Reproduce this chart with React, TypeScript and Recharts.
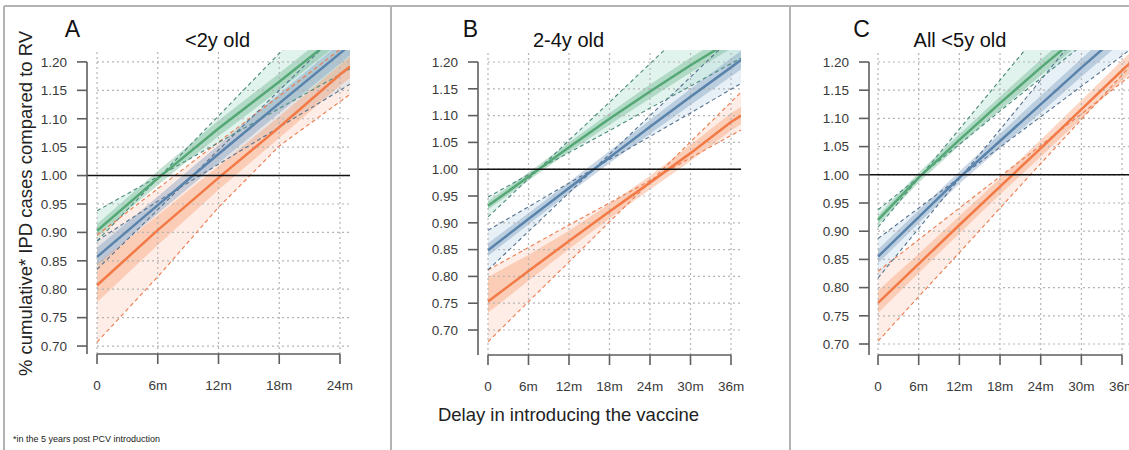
import React from "react";
import {
  ComposedChart,
  Area,
  Line,
  XAxis,
  YAxis,
  ReferenceLine,
} from "recharts";

// ---- data (cumulative IPD ratio vs. delay in months) ----

const yTicks = [0.7, 0.75, 0.8, 0.85, 0.9, 0.95, 1.0, 1.05, 1.1, 1.15, 1.2];
const xTicksA = [0, 6, 12, 18, 24];
const xTicksBC = [0, 6, 12, 18, 24, 30, 36];

// panel A: <2y old
const monthsA = [0, 6, 12, 18, 24, 25];
const greenMidA = [0.903, 0.995, 1.083, 1.165, 1.25, 1.264];
const greenLoA = [0.893, 0.983, 1.069, 1.15, 1.234, 1.248];
const greenHiA = [0.915, 1.008, 1.097, 1.18, 1.266, 1.28];
const greenDash1A = [0.938, 0.998, 1.058, 1.118, 1.178, 1.188];
const greenDash2A = [0.885, 0.995, 1.105, 1.215, 1.325, 1.343];
const blueMidA = [0.857, 0.948, 1.038, 1.127, 1.215, 1.23];
const blueLoA = [0.842, 0.933, 1.022, 1.11, 1.197, 1.212];
const blueHiA = [0.873, 0.963, 1.054, 1.144, 1.233, 1.248];
const blueDash1A = [0.885, 0.955, 1.02, 1.085, 1.15, 1.161];
const blueDash2A = [0.835, 0.94, 1.045, 1.15, 1.255, 1.272];
const orangeMidA = [0.807, 0.904, 0.996, 1.085, 1.178, 1.192];
const orangeLoA = [0.777, 0.878, 0.975, 1.066, 1.158, 1.172];
const orangeHiA = [0.845, 0.93, 1.017, 1.104, 1.195, 1.21];
const orangeDash1A = [0.895, 0.977, 1.059, 1.14, 1.222, 1.236];
const orangeDash2A = [0.707, 0.822, 0.944, 1.052, 1.13, 1.143];

// panel B: 2-4y old
const monthsB = [0, 6, 12, 18, 24, 30, 36, 37.5];
const greenMidB = [0.932, 0.986, 1.041, 1.094, 1.145, 1.194, 1.24, 1.251];
const greenLoB = [0.925, 0.979, 1.032, 1.083, 1.132, 1.18, 1.225, 1.236];
const greenHiB = [0.94, 0.994, 1.05, 1.105, 1.158, 1.208, 1.255, 1.266];
const greenDash1B = [0.948, 0.99, 1.031, 1.072, 1.114, 1.155, 1.197, 1.207];
const greenDash2B = [0.911, 0.982, 1.054, 1.125, 1.197, 1.268, 1.34, 1.357];
const blueMidB = [0.849, 0.907, 0.965, 1.022, 1.079, 1.135, 1.19, 1.204];
const blueLoB = [0.838, 0.897, 0.955, 1.011, 1.066, 1.12, 1.173, 1.186];
const blueHiB = [0.862, 0.918, 0.976, 1.034, 1.092, 1.15, 1.207, 1.221];
const blueDash1B = [0.886, 0.93, 0.974, 1.018, 1.061, 1.105, 1.149, 1.16];
const blueDash2B = [0.812, 0.884, 0.956, 1.028, 1.1, 1.172, 1.244, 1.262];
const orangeMidB = [0.753, 0.81, 0.866, 0.921, 0.975, 1.03, 1.088, 1.1];
const orangeLoB = [0.732, 0.792, 0.851, 0.908, 0.962, 1.015, 1.072, 1.084];
const orangeHiB = [0.799, 0.84, 0.885, 0.935, 0.988, 1.045, 1.105, 1.116];
const orangeDash1B = [0.812, 0.854, 0.896, 0.937, 0.979, 1.021, 1.063, 1.073];
const orangeDash2B = [0.678, 0.753, 0.827, 0.902, 0.976, 1.051, 1.125, 1.144];

// panel C: all <5y old
const monthsC = [0, 6, 12, 18, 24, 30, 36, 37.5];
const greenMidC = [0.92, 0.995, 1.062, 1.127, 1.19, 1.25, 1.31, 1.325];
const greenLoC = [0.912, 0.986, 1.052, 1.115, 1.176, 1.235, 1.294, 1.309];
const greenHiC = [0.928, 1.004, 1.072, 1.139, 1.204, 1.265, 1.326, 1.341];
const greenDash1C = [0.938, 0.996, 1.054, 1.113, 1.171, 1.229, 1.287, 1.302];
const greenDash2C = [0.907, 0.994, 1.081, 1.168, 1.255, 1.342, 1.429, 1.451];
const blueMidC = [0.855, 0.925, 0.995, 1.06, 1.125, 1.19, 1.253, 1.268];
const blueLoC = [0.843, 0.914, 0.984, 1.047, 1.11, 1.174, 1.236, 1.251];
const blueHiC = [0.868, 0.937, 1.006, 1.073, 1.14, 1.206, 1.27, 1.285];
const blueDash1C = [0.887, 0.941, 0.995, 1.049, 1.103, 1.157, 1.211, 1.225];
const blueDash2C = [0.817, 0.905, 0.993, 1.08, 1.168, 1.256, 1.343, 1.365];
const orangeMidC = [0.773, 0.842, 0.911, 0.979, 1.047, 1.116, 1.185, 1.202];
const orangeLoC = [0.755, 0.826, 0.896, 0.965, 1.032, 1.1, 1.167, 1.184];
const orangeHiC = [0.795, 0.86, 0.927, 0.994, 1.062, 1.132, 1.203, 1.22];
const orangeDash1C = [0.829, 0.885, 0.941, 0.997, 1.052, 1.108, 1.164, 1.178];
const orangeDash2C = [0.705, 0.784, 0.862, 0.941, 1.02, 1.098, 1.177, 1.197];

// ---- styling ----

const FONT = "'Liberation Sans', Arial, Helvetica, sans-serif";

const COLORS = {
  green: { line: "#55a876", dash: "#4c8a7c", inner: "#6ab38b", outer: "#a3d9c7" },
  blue: { line: "#5a83ab", dash: "#56728f", inner: "#7a9cc0", outer: "#b3d0e3" },
  orange: { line: "#f27a46", dash: "#ec7a4c", inner: "#f79a6e", outer: "#fcc8b0" },
};

type GroupKey = "green" | "blue" | "orange";
type Group = { mid: number[]; lo: number[]; hi: number[]; d1: number[]; d2: number[] };

function buildRows(months: number[], groups: Record<GroupKey, Group>) {
  return months.map((m, i) => {
    const row: Record<string, any> = { m };
    (Object.keys(groups) as GroupKey[]).forEach((k) => {
      const g = groups[k];
      row[k + "Mid"] = g.mid[i];
      row[k + "In"] = [g.lo[i], g.hi[i]];
      row[k + "Out"] = [g.d1[i], g.d2[i]];
      row[k + "D1"] = g.d1[i];
      row[k + "D2"] = g.d2[i];
    });
    return row;
  });
}

const dataA = buildRows(monthsA, {
  green: { mid: greenMidA, lo: greenLoA, hi: greenHiA, d1: greenDash1A, d2: greenDash2A },
  blue: { mid: blueMidA, lo: blueLoA, hi: blueHiA, d1: blueDash1A, d2: blueDash2A },
  orange: { mid: orangeMidA, lo: orangeLoA, hi: orangeHiA, d1: orangeDash1A, d2: orangeDash2A },
});
const dataB = buildRows(monthsB, {
  green: { mid: greenMidB, lo: greenLoB, hi: greenHiB, d1: greenDash1B, d2: greenDash2B },
  blue: { mid: blueMidB, lo: blueLoB, hi: blueHiB, d1: blueDash1B, d2: blueDash2B },
  orange: { mid: orangeMidB, lo: orangeLoB, hi: orangeHiB, d1: orangeDash1B, d2: orangeDash2B },
});
const dataC = buildRows(monthsC, {
  green: { mid: greenMidC, lo: greenLoC, hi: greenHiC, d1: greenDash1C, d2: greenDash2C },
  blue: { mid: blueMidC, lo: blueLoC, hi: blueHiC, d1: blueDash1C, d2: blueDash2C },
  orange: { mid: orangeMidC, lo: orangeLoC, hi: orangeHiC, d1: orangeDash1C, d2: orangeDash2C },
});

const ORDER: GroupKey[] = ["orange", "blue", "green"];
const Y_AXIS_W = 80;
const X_AXIS_H = 60;
const AXIS_COLOR = "#5e5e5e";

function Panel(props: {
  data: Record<string, any>[];
  plotLeft: number;
  plotBottom: number;
  xDomain: [number, number];
  yDomain: [number, number];
  xTicks: number[];
}) {
  const { data, plotLeft, plotBottom, xDomain, yDomain, xTicks } = props;
  const plotW = 263;
  const width = Y_AXIS_W + plotW + 10;
  const height = 450;
  const top = 50;
  const lastTick = xTicks[xTicks.length - 1];

  return (
    <div style={{ position: "absolute", left: plotLeft - Y_AXIS_W, top: 0 }}>
      <ComposedChart
        width={width}
        height={height}
        data={data}
        margin={{ top, right: 10, left: 0, bottom: height - plotBottom - X_AXIS_H }}
      >
        <XAxis
          dataKey="m"
          type="number"
          domain={xDomain}
          allowDataOverflow
          ticks={xTicks}
          interval={0}
          height={X_AXIS_H}
          axisLine={false}
          tickLine={{ stroke: AXIS_COLOR, strokeWidth: 1.6 }}
          tickSize={10}
          tickMargin={16}
          tick={{ fill: "#3a3a3a", fontSize: 13.5, fontFamily: FONT }}
          tickFormatter={(v: number) => (v === 0 ? "0" : `${v}m`)}
        />
        <YAxis
          type="number"
          domain={yDomain}
          allowDataOverflow
          ticks={yTicks}
          interval={0}
          width={Y_AXIS_W}
          axisLine={false}
          tickLine={{ stroke: AXIS_COLOR, strokeWidth: 1.6 }}
          tickSize={10}
          tickMargin={10}
          tick={{ fill: "#3a3a3a", fontSize: 13.5, fontFamily: FONT }}
          tickFormatter={(v: number) => v.toFixed(2)}
        />

        {/* dotted grid */}
        {yTicks.map((t) => (
          <ReferenceLine
            key={"h" + t}
            segment={[
              { x: 0, y: t },
              { x: xDomain[1], y: t },
            ]}
            stroke="#b4b4b4"
            strokeDasharray="2 3"
            strokeWidth={1.2}
          />
        ))}
        {xTicks.map((t) => (
          <ReferenceLine
            key={"v" + t}
            segment={[
              { x: t, y: yDomain[0] },
              { x: t, y: yDomain[1] },
            ]}
            stroke="#b4b4b4"
            strokeDasharray="2 3"
            strokeWidth={1.2}
          />
        ))}

        {ORDER.map((k) => (
          <Area
            key={k + "Out"}
            type="linear"
            dataKey={k + "Out"}
            stroke="none"
            fill={COLORS[k].outer}
            fillOpacity={0.32}
            isAnimationActive={false}
          />
        ))}
        {ORDER.map((k) => (
          <Area
            key={k + "In"}
            type="linear"
            dataKey={k + "In"}
            stroke="none"
            fill={COLORS[k].inner}
            fillOpacity={0.4}
            isAnimationActive={false}
          />
        ))}
        {ORDER.flatMap((k) => [
          <Line
            key={k + "D1"}
            type="linear"
            dataKey={k + "D1"}
            stroke={COLORS[k].dash}
            strokeWidth={1.1}
            strokeDasharray="4 3"
            dot={false}
            isAnimationActive={false}
          />,
          <Line
            key={k + "D2"}
            type="linear"
            dataKey={k + "D2"}
            stroke={COLORS[k].dash}
            strokeWidth={1.1}
            strokeDasharray="4 3"
            dot={false}
            isAnimationActive={false}
          />,
        ])}
        {ORDER.map((k) => (
          <Line
            key={k + "Mid"}
            type="linear"
            dataKey={k + "Mid"}
            stroke={COLORS[k].line}
            strokeWidth={2.5}
            dot={false}
            isAnimationActive={false}
          />
        ))}

        <ReferenceLine y={1} stroke="#111" strokeWidth={1.5} />

        {/* R-style axis lines */}
        <ReferenceLine
          segment={[
            { x: xDomain[0], y: yDomain[0] },
            { x: xDomain[0], y: 1.2 },
          ]}
          stroke={AXIS_COLOR}
          strokeWidth={1.6}
          ifOverflow="visible"
        />
        <ReferenceLine
          segment={[
            { x: 0, y: yDomain[0] },
            { x: lastTick, y: yDomain[0] },
          ]}
          stroke={AXIS_COLOR}
          strokeWidth={1.6}
          ifOverflow="visible"
        />
      </ComposedChart>
    </div>
  );
}

export default function App() {
  return (
    <div
      style={{
        position: "absolute",
        left: 0,
        top: 0,
        width: 1129,
        height: 450,
        overflow: "hidden",
        background: "#fff",
        fontFamily: FONT,
      }}
    >
      <Panel
        data={dataA}
        plotLeft={87}
        plotBottom={354}
        xDomain={[-0.99, 24.99]}
        yDomain={[0.686, 1.221]}
        xTicks={xTicksA}
      />
      <Panel
        data={dataB}
        plotLeft={478}
        plotBottom={355}
        xDomain={[-1.48, 37.48]}
        yDomain={[0.6534, 1.2224]}
        xTicks={xTicksBC}
      />
      <Panel
        data={dataC}
        plotLeft={869}
        plotBottom={355}
        xDomain={[-1.33, 37.47]}
        yDomain={[0.6805, 1.2213]}
        xTicks={xTicksBC}
      />

      <svg
        width={1129}
        height={450}
        style={{ position: "absolute", left: 0, top: 0, pointerEvents: "none" }}
        fontFamily={FONT}
      >
        <g stroke="#b3b3b3" strokeWidth={2}>
          <line x1={4} y1={6} x2={1129} y2={6} />
          <line x1={4} y1={6} x2={4} y2={450} />
          <line x1={391} y1={6} x2={391} y2={450} />
          <line x1={790} y1={6} x2={790} y2={450} />
        </g>
        <g fill="#111" fontSize={23} textAnchor="middle">
          <text x={72.5} y={37}>A</text>
          <text x={470.5} y={37}>B</text>
          <text x={861.5} y={37}>C</text>
        </g>
        <g fill="#111" fontSize={20} textAnchor="middle">
          <text x={217.5} y={46.5}>&lt;2y old</text>
          <text x={568.5} y={46.5}>2-4y old</text>
          <text x={960} y={46.5}>All &lt;5y old</text>
        </g>
        <text
          x={25}
          y={203.5}
          transform="rotate(-90 25 203.5)"
          textAnchor="middle"
          dominantBaseline="central"
          fontSize={18.5}
          fill="#222"
        >
          % cumulative* IPD cases compared to RV
        </text>
        <text x={568.5} y={421} textAnchor="middle" fontSize={18.5} fill="#222">
          Delay in introducing the vaccine
        </text>
        <text x={13} y={442} fontSize={9} fill="#222">
          *in the 5 years post PCV introduction
        </text>
      </svg>
    </div>
  );
}
